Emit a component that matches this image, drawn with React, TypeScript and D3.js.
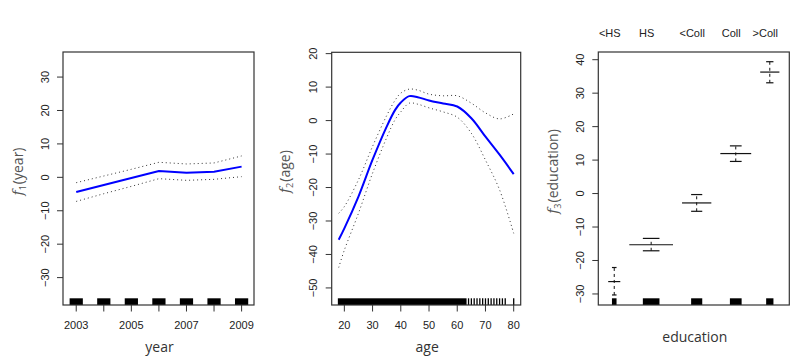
import { useEffect, useRef } from 'react';
import * as d3 from 'd3';

// panel 1: year
const YEARS = [2003, 2004, 2005, 2006, 2007, 2008, 2009];
const YEAR_FIT = [-4.4, -2.3, -0.2, 1.9, 1.4, 1.7, 3.2];
const YEAR_UPPER = [-1.6, 0.4, 2.4, 4.5, 4.0, 4.3, 6.4];
const YEAR_LOWER = [-7.2, -4.9, -2.7, -0.4, -0.9, -0.6, 0.2];
const YEAR_TICK_LABELS = [2003, 2005, 2007, 2009];

// panel 2: age
const AGES = [18, 20, 25, 30, 35, 38, 40, 43, 46, 50, 55, 60, 65, 70, 75, 80];
const AGE_FIT = [-35.6, -32.2, -22.7, -11.7, -1.8, 3.2, 5.4, 7.3, 7.0, 6.0, 5.1, 4.2, 0.7, -4.8, -10.2, -16.0];
const AGE_UPPER = [-27.7, -25.7, -17.7, -7.7, 1.5, 6.1, 8.2, 9.4, 9.1, 7.9, 7.4, 7.4, 5.2, 2.3, 0.5, 2.0];
const AGE_LOWER = [-43.9, -38.7, -27.7, -15.7, -5.1, 0.3, 2.6, 5.2, 4.9, 3.8, 2.6, 1.0, -3.8, -11.8, -20.7, -33.7];
const AGE_RUG_DENSE = [18, 19, 20, 21, 22, 23, 24, 25, 26, 27, 28, 29, 30, 31, 32, 33, 34, 35, 36, 37, 38, 39, 40,
  41, 42, 43, 44, 45, 46, 47, 48, 49, 50, 51, 52, 53, 54, 55, 56, 57, 58, 59, 60, 61, 62, 63];
const AGE_RUG_SPARSE = [64, 65, 66, 67, 68, 69, 70, 71, 72, 73, 74, 75, 76, 77, 80];
const AGE_TICKS = [20, 30, 40, 50, 60, 70, 80];

// panel 3: education
const EDU_LEVELS = ['<HS', 'HS', '<Coll', 'Coll', '>Coll'];
const EDU_COUNTS = [268, 971, 650, 685, 426];
const EDU_FIT = [-26.3, -15.3, -2.8, 11.95, 36.3];
const EDU_UPPER = [-22.1, -13.4, -0.3, 14.25, 39.4];
const EDU_LOWER = [-30.3, -17.1, -5.3, 9.6, 33.1];

const AXIS = '#333';
const TICK_FONT = '"Liberation Sans", Arial, sans-serif';
const TITLE_FONT = '"Open Sans", sans-serif';

type Sel = d3.Selection<SVGGElement, unknown, null, undefined>;

function frame(g: Sel, x: d3.ScaleLinear<number, number>, y: d3.ScaleLinear<number, number>, yTicks: number[]) {
  const [x0, x1] = x.range();
  const [y1, y0] = y.range();
  g.append('rect')
    .attr('x', x0).attr('y', y0)
    .attr('width', x1 - x0).attr('height', y1 - y0)
    .attr('fill', 'none').attr('stroke', AXIS).attr('stroke-width', 1.2);

  g.append('g').selectAll('line')
    .data(yTicks)
    .join('line')
    .attr('x1', x0 - 6).attr('x2', x0)
    .attr('y1', d => y(d)).attr('y2', d => y(d))
    .attr('stroke', AXIS).attr('stroke-width', 1);

  g.append('g').selectAll('text')
    .data(yTicks)
    .join('text')
    .attr('transform', d => `translate(${x0 - 14.5},${y(d)}) rotate(-90)`)
    .attr('text-anchor', 'middle')
    .attr('font-family', TICK_FONT).attr('font-size', 11).attr('fill', '#222')
    .text(d => (d < 0 ? `\u2212${Math.abs(d)}` : `${d}`));
}

function xTicks(g: Sel, x: d3.ScaleLinear<number, number>, y: d3.ScaleLinear<number, number>, ticks: number[], labels: number[]) {
  const yb = y.range()[0];
  g.append('g').selectAll('line')
    .data(ticks)
    .join('line')
    .attr('x1', d => x(d)).attr('x2', d => x(d))
    .attr('y1', yb).attr('y2', yb + 6.5)
    .attr('stroke', AXIS).attr('stroke-width', 1);
  g.append('g').selectAll('text')
    .data(labels)
    .join('text')
    .attr('x', d => x(d)).attr('y', yb + 23.5)
    .attr('text-anchor', 'middle')
    .attr('font-family', TICK_FONT).attr('font-size', 11).attr('fill', '#222')
    .text(d => `${d}`);
}

function titles(g: Sel, x: d3.ScaleLinear<number, number>, y: d3.ScaleLinear<number, number>,
  xTitle: string, xTitleY: number, sub: string, arg: string, yTitleX: number) {
  const [x0, x1] = x.range();
  const [y1, y0] = y.range();
  g.append('text')
    .attr('x', (x0 + x1) / 2 + 1).attr('y', xTitleY)
    .attr('text-anchor', 'middle')
    .attr('font-family', TITLE_FONT).attr('font-size', 14).attr('fill', '#333')
    .text(xTitle);

  const t = g.append('text')
    .attr('transform', `translate(${yTitleX},${(y0 + y1) / 2 - 7}) rotate(-90)`)
    .attr('text-anchor', 'middle')
    .attr('fill', '#555');
  t.append('tspan')
    .attr('font-family', '"DejaVu Serif", serif').attr('font-style', 'italic').attr('font-size', 14)
    .text('f');
  t.append('tspan')
    .attr('font-family', TITLE_FONT).attr('font-size', 9).attr('dy', 3)
    .text(sub);
  t.append('tspan')
    .attr('font-family', TITLE_FONT).attr('font-size', 14).attr('dy', -3).attr('dx', 1)
    .text(`(${arg})`);
}

export default function App() {
  const svgRef = useRef<SVGSVGElement>(null);

  useEffect(() => {
    if (!svgRef.current) return;
    const svg = d3.select(svgRef.current);
    svg.selectAll('*').remove();
    const root = svg.append('g') as unknown as Sel;

    // ---- panel 1: year
    const x1s = d3.scaleLinear().domain([2002.52, 2009.45]).range([63, 254]);
    const y1s = d3.scaleLinear().domain([-38.2, 37.5]).range([305, 52]);
    const p1 = root.append('g');

    // rug
    p1.append('g').selectAll('rect')
      .data(YEARS)
      .join('rect')
      .attr('x', d => x1s(d - 0.24))
      .attr('width', d => x1s(d + 0.24) - x1s(d - 0.24))
      .attr('y', 298.3).attr('height', 305 - 298.3)
      .attr('fill', '#000');

    const yearLine = (vals: number[]) =>
      d3.line<number>().x((_, i) => x1s(YEARS[i])).y(d => y1s(d))(vals);

    [YEAR_UPPER, YEAR_LOWER].forEach(vals => {
      p1.append('path').attr('d', yearLine(vals)).attr('fill', 'none')
        .attr('stroke', '#333').attr('stroke-width', 1).attr('stroke-dasharray', '1,3');
    });
    p1.append('path').attr('d', yearLine(YEAR_FIT)).attr('fill', 'none')
      .attr('stroke', '#0000ff').attr('stroke-width', 2);

    frame(p1, x1s, y1s, [-30, -20, -10, 0, 10, 20, 30]);
    xTicks(p1, x1s, y1s, YEARS, YEAR_TICK_LABELS);
    titles(p1, x1s, y1s, 'year', 352, '1', 'year', 23);

    // ---- panel 2: age
    const x2s = d3.scaleLinear().domain([15.52, 82.48]).range([331.7, 520.7]);
    const y2s = d3.scaleLinear().domain([-55.1, 20.4]).range([305, 52.3]);
    const p2 = root.append('g');

    // dense part of the rug merges into one block
    const [ageMin, ageMax] = d3.extent(AGE_RUG_DENSE) as [number, number];
    p2.append('rect')
      .attr('x', x2s(ageMin - 0.3))
      .attr('width', x2s(ageMax + 0.3) - x2s(ageMin - 0.3))
      .attr('y', 298.3).attr('height', 305 - 298.3)
      .attr('fill', '#000');
    p2.append('g').selectAll('line')
      .data(AGE_RUG_SPARSE)
      .join('line')
      .attr('x1', d => x2s(d)).attr('x2', d => x2s(d))
      .attr('y1', 298.3).attr('y2', 305)
      .attr('stroke', '#000').attr('stroke-width', 1.3);

    const ageLine = (vals: number[]) =>
      d3.line<number>().x((_, i) => x2s(AGES[i])).y(d => y2s(d)).curve(d3.curveCatmullRom)(vals);

    [AGE_UPPER, AGE_LOWER].forEach(vals => {
      p2.append('path').attr('d', ageLine(vals)).attr('fill', 'none')
        .attr('stroke', '#333').attr('stroke-width', 1).attr('stroke-dasharray', '1,3');
    });
    p2.append('path').attr('d', ageLine(AGE_FIT)).attr('fill', 'none')
      .attr('stroke', '#0000ff').attr('stroke-width', 2);

    frame(p2, x2s, y2s, [-50, -40, -30, -20, -10, 0, 10, 20]);
    xTicks(p2, x2s, y2s, AGE_TICKS, AGE_TICKS);
    titles(p2, x2s, y2s, 'age', 352, '2', 'age', 290);

    // ---- panel 3: education (levels laid out by count, fixed gap between them)
    const GAP = 200;
    const PAD = 220;
    const starts = EDU_COUNTS.map((_, i) => d3.sum(EDU_COUNTS.slice(0, i)) + i * GAP);
    const total = d3.sum(EDU_COUNTS) + (EDU_COUNTS.length - 1) * GAP;
    const x3s = d3.scaleLinear().domain([-PAD, total + PAD]).range([598.3, 789.3]);
    const y3s = d3.scaleLinear().domain([-33.3, 42.3]).range([305, 52]);
    const p3 = root.append('g');

    EDU_LEVELS.forEach((lvl, i) => {
      const a = starts[i];
      const b = starts[i] + EDU_COUNTS[i];
      const c = (a + b) / 2;
      const half = EDU_COUNTS[i] * 0.19;
      const xc = x3s(c);

      p3.append('rect')
        .attr('x', x3s(c - half)).attr('width', x3s(c + half) - x3s(c - half))
        .attr('y', 298.3).attr('height', 305 - 298.3)
        .attr('fill', '#000');

      p3.append('line')
        .attr('x1', x3s(a)).attr('x2', x3s(b))
        .attr('y1', y3s(EDU_FIT[i])).attr('y2', y3s(EDU_FIT[i]))
        .attr('stroke', '#111').attr('stroke-width', 1.2);

      p3.append('line')
        .attr('x1', xc).attr('x2', xc)
        .attr('y1', y3s(EDU_LOWER[i])).attr('y2', y3s(EDU_UPPER[i]))
        .attr('stroke', '#111').attr('stroke-width', 1).attr('stroke-dasharray', '3,3');

      [EDU_LOWER[i], EDU_UPPER[i]].forEach(v => {
        p3.append('line')
          .attr('x1', x3s(c - half)).attr('x2', x3s(c + half))
          .attr('y1', y3s(v)).attr('y2', y3s(v))
          .attr('stroke', '#111').attr('stroke-width', 1.2);
      });

      p3.append('text')
        .attr('x', xc - 4.5).attr('y', 37.3)
        .attr('text-anchor', 'middle')
        .attr('font-family', TICK_FONT).attr('font-size', 11).attr('fill', '#222')
        .text(lvl);
    });

    frame(p3, x3s, y3s, [-30, -20, -10, 0, 10, 20, 30, 40]);
    titles(p3, x3s, y3s, 'education', 341.5, '3', 'education', 558);
  }, []);

  return (
    <svg
      ref={svgRef}
      width={802}
      height={361}
      style={{ position: 'absolute', left: 0, top: 0, background: '#fff' }}
    />
  );
}
